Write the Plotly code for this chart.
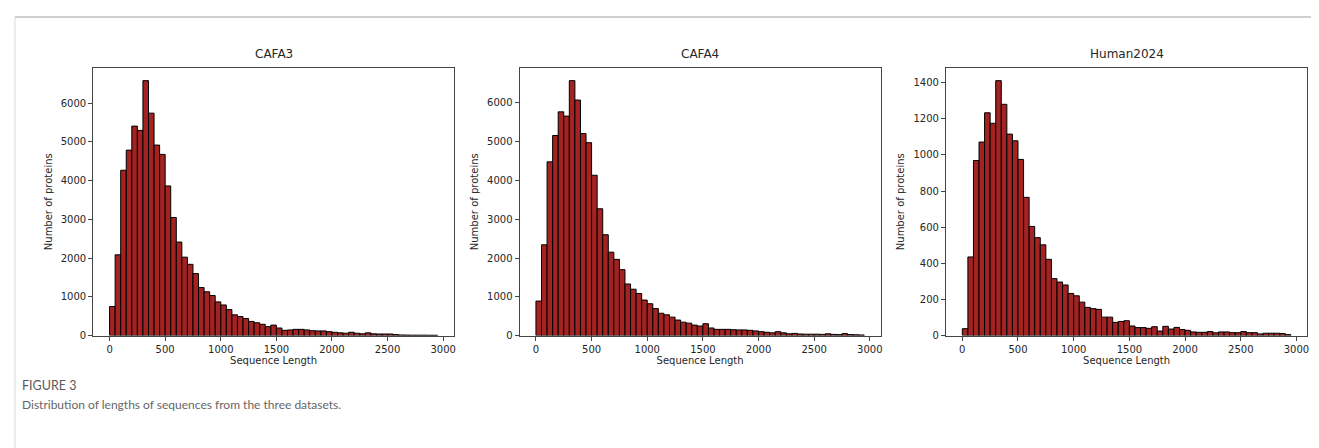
import plotly.graph_objects as go

# ---- data ----
bin_width = 50
bin_starts = list(range(0, 2950, 50))  # 59 bins: 0-50 ... 2900-2950

cafa3_counts = [
    750, 2085, 4270, 4790, 5410, 5300, 6585, 5745, 4920, 4680,
    3865, 3050, 2415, 2025, 1840, 1600, 1240, 1130, 1035, 870,
    790, 670, 535, 490, 440, 365, 330, 290, 230, 270,
    195, 135, 145, 160, 160, 145, 125, 120, 120, 100,
    85, 70, 60, 85, 60, 45, 70, 45, 40, 40,
    40, 25, 15, 12, 10, 10, 10, 8, 8,
]
cafa4_counts = [
    890, 2340, 4480, 5160, 5770, 5660, 6575, 6075, 5210, 4975,
    4135, 3270, 2600, 2150, 1965, 1700, 1330, 1195, 1085, 915,
    820, 695, 575, 535, 475, 400, 345, 320, 270, 245,
    305, 195, 160, 160, 160, 150, 145, 145, 135, 120,
    100, 85, 70, 100, 70, 45, 55, 40, 35, 35,
    35, 30, 45, 30, 25, 50, 25, 20, 15,
]
human2024_counts = [
    38, 435, 969, 1071, 1233, 1175, 1411, 1280, 1115, 1078,
    975, 765, 604, 542, 502, 422, 315, 296, 280, 233,
    220, 185, 156, 149, 145, 102, 102, 73, 78, 82,
    53, 44, 44, 40, 49, 25, 51, 36, 45, 33,
    29, 20, 18, 18, 22, 15, 20, 20, 16, 16,
    22, 16, 16, 9, 13, 13, 13, 11, 5,
]

titles = ["CAFA3", "CAFA4", "Human2024"]
series = [cafa3_counts, cafa4_counts, human2024_counts]
y_ticks = [
    [0, 1000, 2000, 3000, 4000, 5000, 6000],
    [0, 1000, 2000, 3000, 4000, 5000, 6000],
    [0, 200, 400, 600, 800, 1000, 1200, 1400],
]
x_ticks = [0, 500, 1000, 1500, 2000, 2500, 3000]
x_title = "Sequence Length"
y_title = "Number of proteins"
caption_label = "FIGURE 3"
caption_text = "Distribution of lengths of sequences from the three datasets."

# ---- layout geometry (pixels) ----
W, H = 1319, 448
panels_px = [(85.3, 446.7), (512.3, 874.0), (939.3, 1301.3)]
top_px, bottom_px = 60.7, 332.0

FONT = "DejaVu Sans"
fig = go.Figure()
centers = [s + bin_width / 2 for s in bin_starts]

layout = dict(
    width=W, height=H,
    margin=dict(l=0, r=0, t=0, b=0),
    paper_bgcolor="white", plot_bgcolor="white",
    showlegend=False,
    font=dict(family=FONT, size=10, color="#262626"),
    annotations=[], shapes=[],
)

for i, (title, counts) in enumerate(zip(titles, series)):
    xa = "x" if i == 0 else f"x{i+1}"
    ya = "y" if i == 0 else f"y{i+1}"
    fig.add_trace(go.Bar(
        x=centers, y=counts, width=[bin_width] * len(counts),
        marker=dict(color="#a32222", line=dict(color="black", width=1)),
        xaxis=xa, yaxis=ya, hoverinfo="x+y",
    ))
    l, r = panels_px[i]
    ymax = max(counts) * 1.05
    data_max = bin_starts[-1] + bin_width
    pad = data_max * 0.05
    axis_common = dict(
        showline=True, linecolor="#444", linewidth=1, mirror=True,
        ticks="outside", ticklen=4, tickcolor="#444", tickwidth=1,
        showgrid=False, zeroline=False,
        tickfont=dict(family=FONT, size=10, color="#262626"),
    )
    layout["xaxis" if i == 0 else f"xaxis{i+1}"] = dict(
        domain=[l / W, r / W], anchor=ya,
        range=[-pad, data_max + pad],
        tickvals=x_ticks,
        title=dict(text=x_title, font=dict(family=FONT, size=10), standoff=3),
        **axis_common,
    )
    layout["yaxis" if i == 0 else f"yaxis{i+1}"] = dict(
        domain=[1 - bottom_px / H, 1 - top_px / H], anchor=xa,
        range=[0, ymax],
        tickvals=y_ticks[i],
        title=dict(text=y_title, font=dict(family=FONT, size=10), standoff=6),
        **axis_common,
    )
    layout["annotations"].append(dict(
        text=title, x=(l + r) / 2 / W, y=1 - (top_px - 5) / H,
        xref="paper", yref="paper", xanchor="center", yanchor="bottom",
        showarrow=False, font=dict(family=FONT, size=12, color="#262626"),
    ))

# caption
layout["annotations"].append(dict(
    text=caption_label, x=12 / W, y=1 - 383 / H, xref="paper", yref="paper",
    xanchor="left", yanchor="middle", showarrow=False,
    font=dict(family="Lato", size=12.5, color="#5a5a5a"),
))
layout["annotations"].append(dict(
    text=caption_text, x=12 / W, y=1 - 402 / H, xref="paper", yref="paper",
    xanchor="left", yanchor="middle", showarrow=False,
    font=dict(family="Lato", size=12, color="#666666"),
))

# page frame lines (top and left)
layout["shapes"].append(dict(type="line", xref="paper", yref="paper",
                             x0=7 / W, x1=1, y0=1 - 9 / H, y1=1 - 9 / H,
                             line=dict(color="#cfcfcf", width=2)))
layout["shapes"].append(dict(type="line", xref="paper", yref="paper",
                             x0=7 / W, x1=7 / W, y0=0, y1=1 - 9 / H,
                             line=dict(color="#d8d8d8", width=1)))

fig.update_layout(**layout)
fig.write_html("out.html")
